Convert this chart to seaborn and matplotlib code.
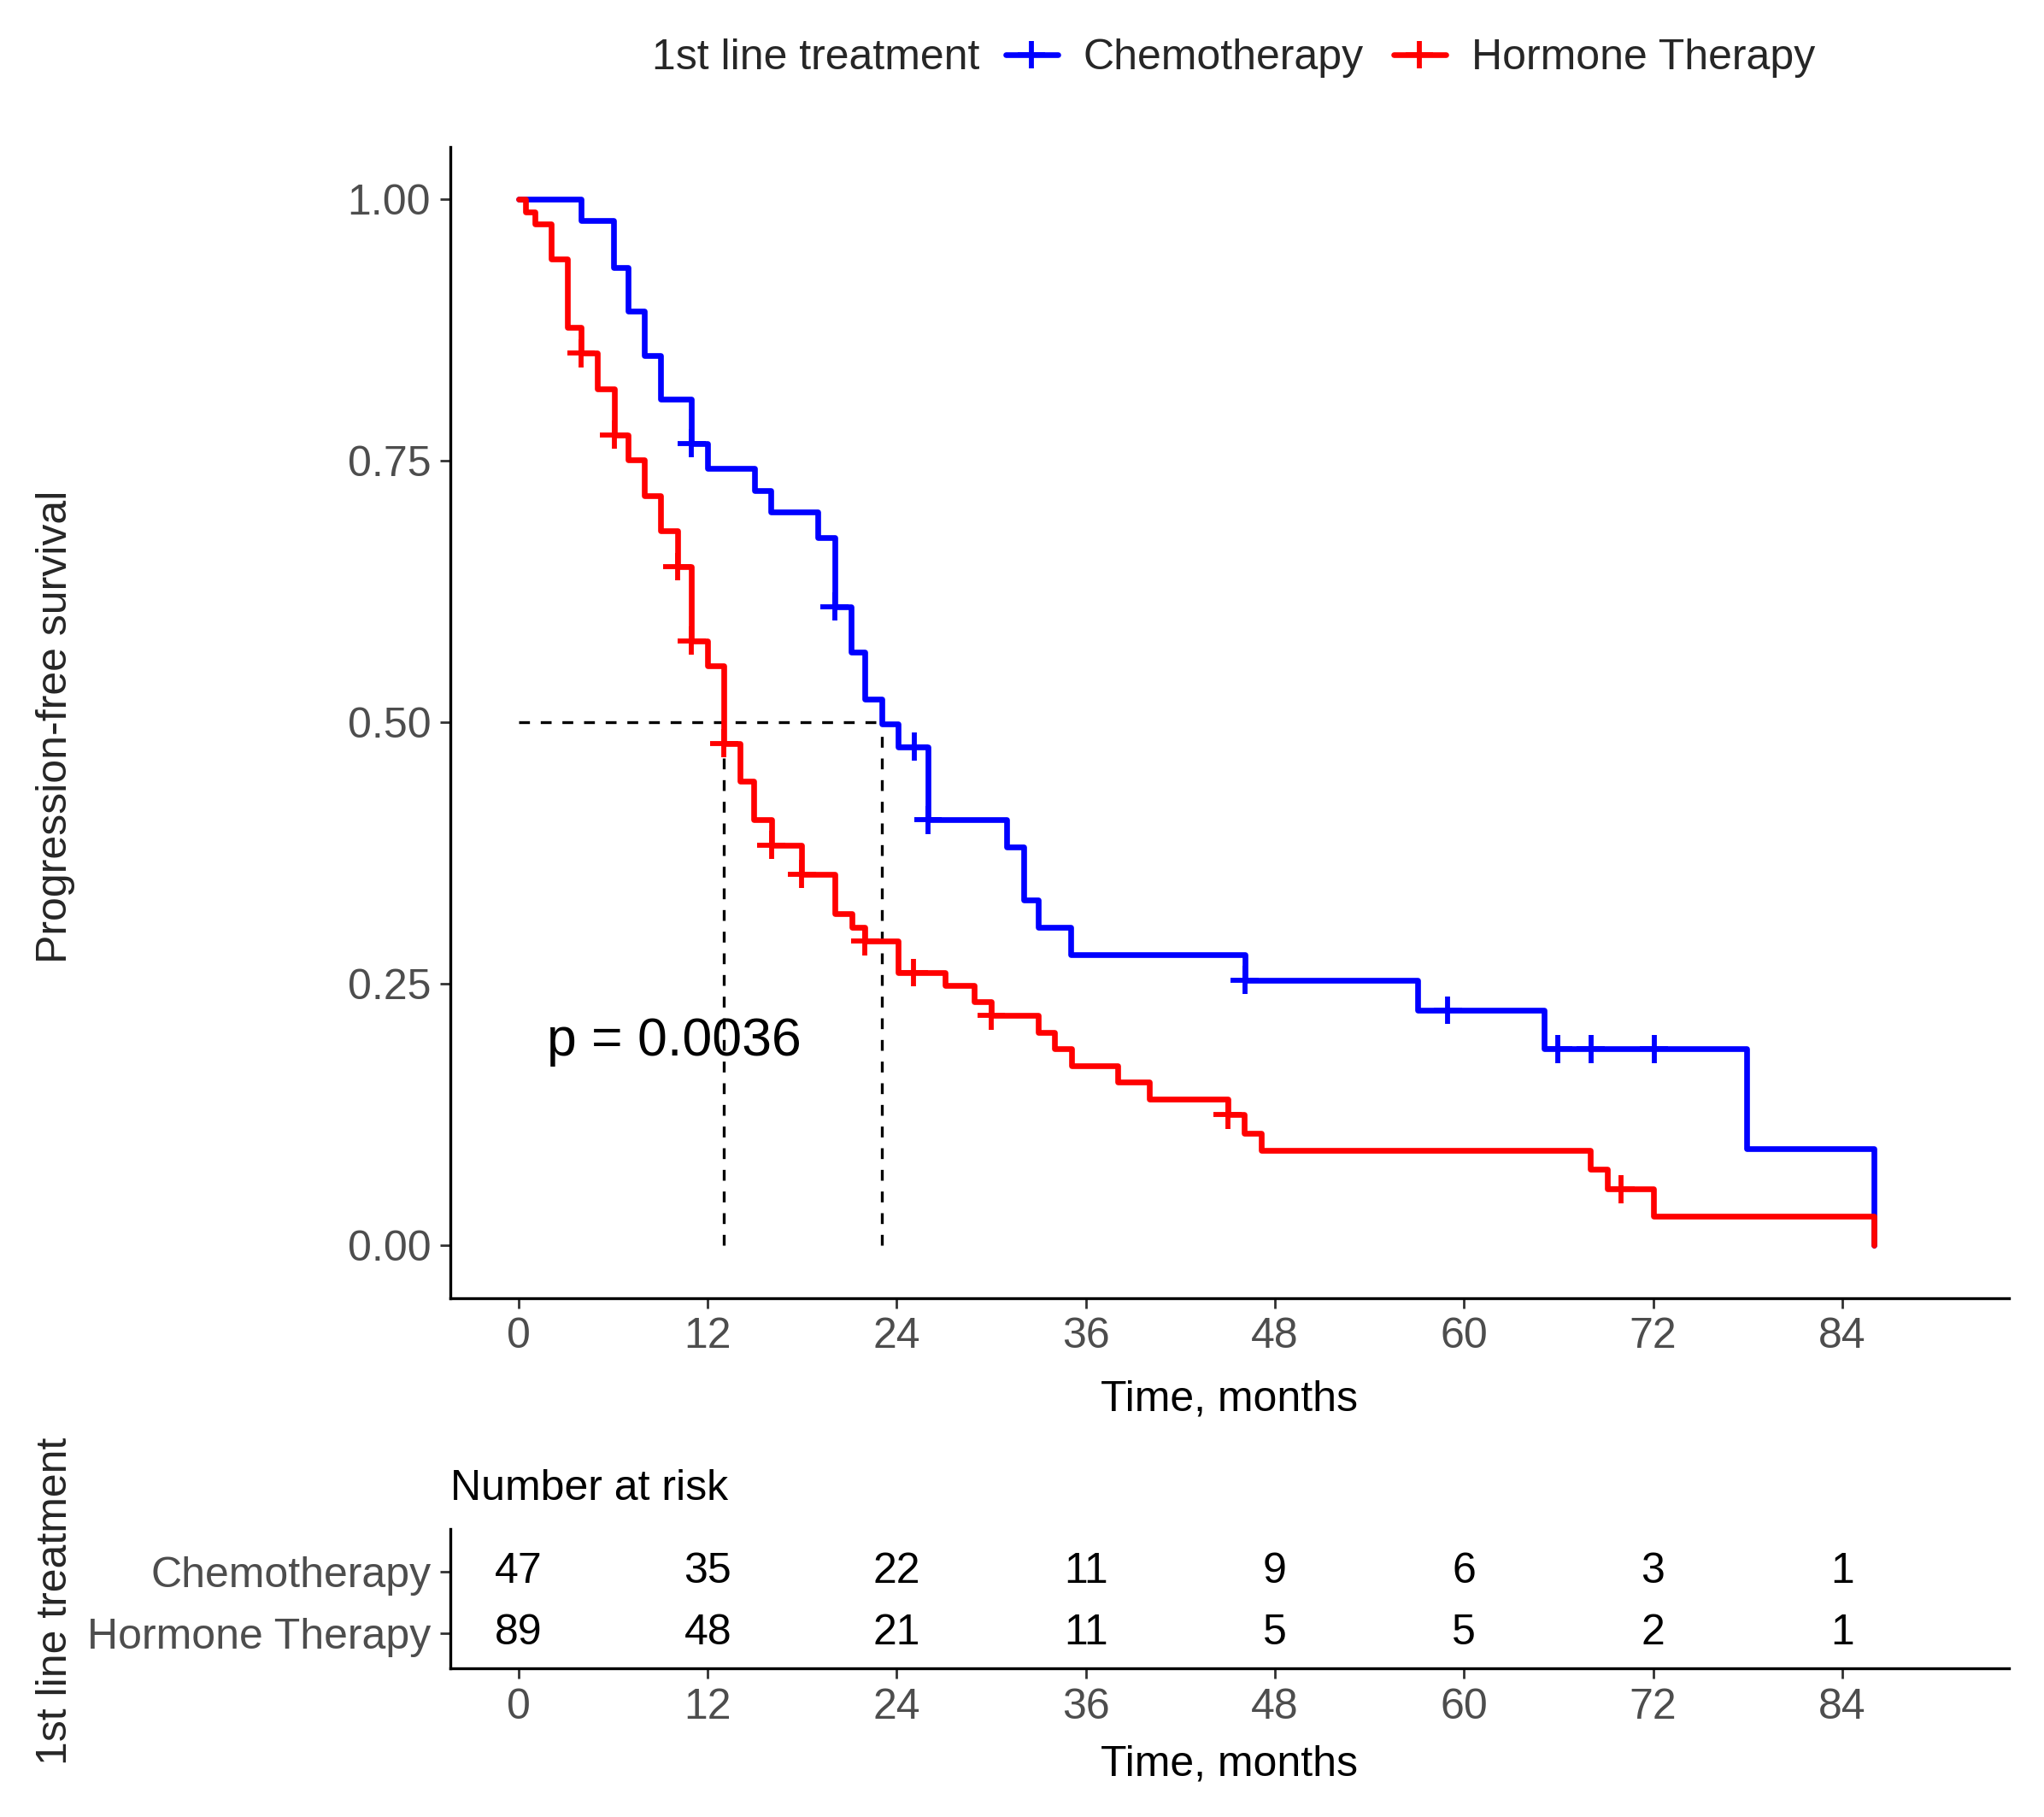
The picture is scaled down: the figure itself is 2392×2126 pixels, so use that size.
import numpy as np
import pandas as pd
import matplotlib
matplotlib.use("Agg")
import matplotlib.pyplot as plt
from matplotlib.lines import Line2D
import seaborn as sns

# Kaplan-Meier steps (time in months, survival after step)
chemo_times = [0, 3.96, 6.04, 6.94, 7.97, 9.02, 10.97, 12.0, 14.95, 16.0, 18.96, 20.05,
               21.1, 21.95, 23.03, 24.06, 25.98, 30.98, 32.07, 32.97, 35.05, 46.08,
               57.07, 65.06, 77.95, 86.03]
chemo_surv = [1.0, 0.980, 0.935, 0.893, 0.851, 0.809, 0.767, 0.743, 0.722, 0.701,
              0.677, 0.611, 0.567, 0.522, 0.499, 0.477, 0.407, 0.381, 0.330, 0.304,
              0.278, 0.254, 0.225, 0.188, 0.093, 0.0]
chemo_censor = [10.97, 20.05, 25.1, 25.98, 46.08, 58.97, 65.96, 68.04, 72.07]

hormone_times = [0, 0.43, 1.01, 2.06, 3.09, 3.96, 5.0, 6.07, 6.94, 7.97, 9.02, 10.07,
                 10.97, 11.99, 13.03, 14.04, 14.9, 16.03, 17.97, 20.05, 21.13, 21.98,
                 24.06, 27.04, 28.9, 29.99, 32.97, 34.0, 35.1, 38.0, 40.0, 44.99,
                 46.04, 47.13, 68.0, 69.09, 72.02, 86.03]
hormone_surv = [1.0, 0.988, 0.977, 0.943, 0.878, 0.853, 0.819, 0.775, 0.751, 0.717,
                0.683, 0.649, 0.578, 0.554, 0.480, 0.444, 0.407, 0.383, 0.355, 0.317,
                0.304, 0.291, 0.261, 0.249, 0.233, 0.220, 0.204, 0.188, 0.172, 0.156,
                0.140, 0.125, 0.107, 0.091, 0.073, 0.054, 0.028, 0.0]
hormone_censor = [3.96, 6.07, 10.07, 10.97, 13.03, 16.03, 17.97, 21.98, 25.07, 29.99,
                  44.99, 69.94]

groups = ["Chemotherapy", "Hormone Therapy"]
risk_times = [0, 12, 24, 36, 48, 60, 72, 84]
chemo_risk = [47, 35, 22, 11, 9, 6, 3, 1]
hormone_risk = [89, 48, 21, 11, 5, 5, 2, 1]
p_text = "p = 0.0036"

palette = {"Chemotherapy": "#0000FF", "Hormone Therapy": "#FF0000"}
tick_col = "#4D4D4D"
FS = 18


def step_value(times, surv, t):
    idx = np.searchsorted(times, t, side="right") - 1
    return surv[idx]


curves = {
    "Chemotherapy": (chemo_times, chemo_surv, chemo_censor),
    "Hormone Therapy": (hormone_times, hormone_surv, hormone_censor),
}
curve_df = pd.concat([pd.DataFrame({"time": c[0], "surv": c[1], "group": g})
                      for g, c in curves.items()], ignore_index=True)
cens_df = pd.concat([pd.DataFrame({"time": c[2],
                                   "surv": [step_value(c[0], c[1], t) for t in c[2]],
                                   "group": g})
                     for g, c in curves.items()], ignore_index=True)
medians = [next(t for t, s in zip(c[0], c[1]) if s <= 0.5) for c in curves.values()]

sns.set_theme(style="ticks")
plt.rcParams["font.family"] = ["Liberation Sans", "DejaVu Sans"]

fig = plt.figure(figsize=(11.96, 10.63), dpi=200)
ax = fig.add_axes([0.2203, 0.2857, 0.7625, 0.6333])
ax2 = fig.add_axes([0.2203, 0.0817, 0.7625, 0.0770])

# median reference lines
dash = (0, (3.8, 3.8))
ax.plot([0, max(medians)], [0.5, 0.5], color="black", ls=dash, lw=1.2)
for m in medians:
    ax.plot([m, m], [0, 0.5], color="black", ls=dash, lw=1.2)

sns.lineplot(data=curve_df, x="time", y="surv", hue="group", palette=palette,
             estimator=None, sort=False, drawstyle="steps-post", lw=2.4,
             legend=False, ax=ax)
sns.scatterplot(data=cens_df, x="time", y="surv", hue="group", palette=palette,
                marker="+", s=140, linewidth=2.1, legend=False, ax=ax, zorder=3)

ax.text(1.8, 0.195, p_text, fontsize=22.5, va="center", ha="left", color="black")

xt = np.arange(0, 85, 12)
for a in (ax, ax2):
    a.set_xlim(-4.34, 94.58)
    a.set_xticks(xt)
    a.set_xticklabels([str(v) for v in xt])
    a.tick_params(axis="both", colors="#333333", labelcolor=tick_col, labelsize=FS,
                  length=4.2, width=1.0, pad=4)
    for sp in ("top", "right"):
        a.spines[sp].set_visible(False)
    for sp in ("left", "bottom"):
        a.spines[sp].set_color("black")
        a.spines[sp].set_linewidth(1.2)
    a.set_xlabel("Time, months", fontsize=FS, color="black")
    a.set_ylabel("")

ax.set_ylim(-0.05, 1.05)
ax.set_yticks([0, 0.25, 0.5, 0.75, 1.0])
ax.set_yticklabels(["0.00", "0.25", "0.50", "0.75", "1.00"])
ax.xaxis.set_label_coords(0.5, -0.071)

# risk table
rows = {"Chemotherapy": (1, chemo_risk), "Hormone Therapy": (0, hormone_risk)}
for g, (row, counts) in rows.items():
    for t, n in zip(risk_times, counts):
        ax2.text(t, row, str(n), ha="center", va="center", fontsize=FS, color="black")
ax2.set_ylim(-0.565, 1.70)
ax2.set_yticks([1, 0])
ax2.set_yticklabels(groups)
ax2.xaxis.set_label_coords(0.5, -0.545)
ax2.set_title("Number at risk", loc="left", fontsize=FS, pad=12, color="black")

fig.text(0.027, 0.600, "Progression-free survival", rotation=90, ha="center",
         va="center", fontsize=FS)
fig.text(0.027, 0.119, "1st line treatment", rotation=90, ha="center",
         va="center", fontsize=FS)

# legend on top
fig.text(0.319, 0.968, "1st line treatment", ha="left", va="center", fontsize=FS)
handles = [Line2D([], [], color=palette[g], lw=2.4, marker="+", markersize=11.5,
                  markeredgewidth=2.1) for g in groups]
fig.legend(handles, groups, loc="center left", bbox_to_anchor=(0.492, 0.968),
           ncol=2, frameon=False, fontsize=FS, handlelength=1.22,
           handletextpad=0.6, columnspacing=0.7, borderpad=0, borderaxespad=0)

fig.savefig("out.png", dpi=200)
